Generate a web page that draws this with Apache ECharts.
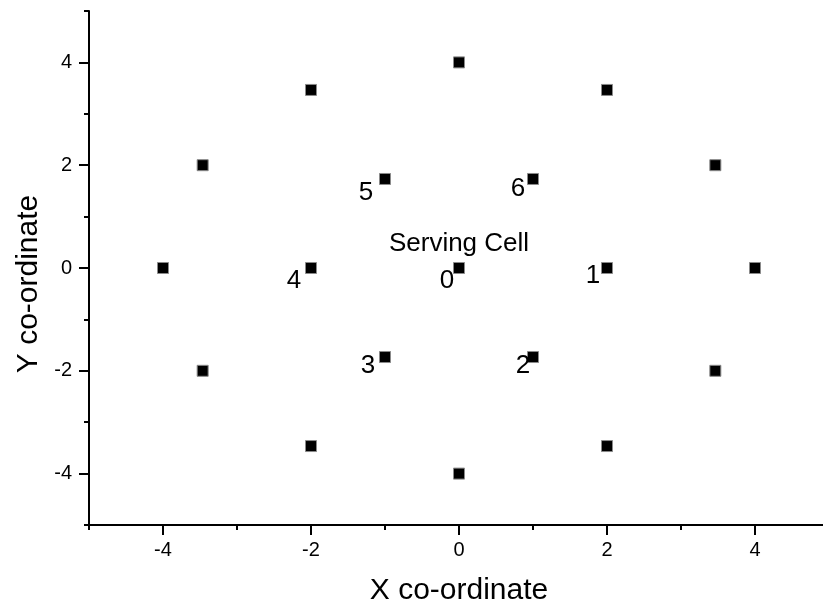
<!DOCTYPE html>
<html>
<head>
<meta charset="utf-8">
<script src="https://cdn.jsdelivr.net/npm/echarts@6/dist/echarts.min.js"></script>
<style>html,body{margin:0;padding:0;background:#fff}#c{width:823px;height:608px}</style>
</head>
<body>
<div id="c"></div>
<script>
// ---- data ----
var cellX = [0, 2, 1, -1, -2, -1, 1, 4, 3.464, 2, 0, -2, -3.464, -4, -3.464, -2, 0, 2, 3.464];
var cellY = [0, 0, -1.732, -1.732, 0, 1.732, 1.732, 0, 2, 3.464, 4, 3.464, 2, 0, -2, -3.464, -4, -3.464, -2];
var cellLabels = ['0', '1', '2', '3', '4', '5', '6', '', '', '', '', '', '', '', '', '', '', '', ''];
var servingLabel = 'Serving Cell';
var majorTicks = [-4, -2, 0, 2, 4];
var minorTicks = [-5, -3, -1, 1, 3, 5];
var xTitle = 'X co-ordinate';
var yTitle = 'Y co-ordinate';

// ---- style (label offsets in px) ----
var labelOffsets = [[-12, 13], [-14, 8], [-10, 9], [-17, 9], [-17, 13], [-19, 14], [-15, 10]];

var FONT = 'Liberation Sans, Arial, sans-serif';
var txt = { color: '#000', fontFamily: FONT, textBorderWidth: 0, textBorderColor: 'transparent', opacity: 1 };
function lbl(extra) { var o = {}; for (var k in txt) o[k] = txt[k]; for (var j in extra) o[j] = extra[j]; return o; }

var data = cellX.map(function (x, i) {
  var d = { value: [x, cellY[i]], name: cellLabels[i] };
  if (cellLabels[i]) {
    d.label = lbl({ show: true, position: 'inside', offset: labelOffsets[i] || [0, 0],
      formatter: '{b}', fontSize: 26 });
  }
  return d;
});

function mkAxis(isX, main) {
  var a = {
    type: 'value', min: -5, max: 5, interval: 1,
    gridIndex: 0,
    position: isX ? 'bottom' : 'left',
    splitLine: { show: false },
    axisLine: { show: main, onZero: false, lineStyle: { color: '#000', width: 2 } },
    axisTick: { show: true, inside: false, length: main ? 10 : 5,
      customValues: main ? majorTicks : minorTicks,
      lineStyle: { color: '#000', width: 2 } },
    axisLabel: { show: main, customValues: majorTicks, margin: isX ? 15 : 17,
      color: '#000', fontSize: 20, fontFamily: FONT },
    z: 5
  };
  if (main) {
    a.name = isX ? xTitle : yTitle;
    a.nameLocation = 'middle';
    a.nameGap = isX ? 51 : 44;
    a.nameTextStyle = { color: '#000', fontSize: 30, fontFamily: FONT,
      padding: isX ? 0 : [0, 32, 0, 0] };
  }
  return a;
}

var chart = echarts.init(document.getElementById('c'), null, { renderer: 'canvas' });
chart.setOption({
  animation: false,
  backgroundColor: '#fff',
  grid: { left: 89, top: 11, width: 740, height: 514, containLabel: false, outerBoundsMode: 'none' },
  xAxis: [mkAxis(true, true), mkAxis(true, false)],
  yAxis: [mkAxis(false, true), mkAxis(false, false)],
  series: [
    {
      type: 'scatter', xAxisIndex: 0, yAxisIndex: 0,
      symbol: 'rect', symbolSize: 11,
      itemStyle: { color: '#000', borderColor: '#8a8a8a', borderWidth: 1, opacity: 1 },
      emphasis: { disabled: true },
      data: data
    },
    {
      type: 'scatter', xAxisIndex: 0, yAxisIndex: 0,
      symbol: 'circle', symbolSize: 1,
      itemStyle: { color: 'rgba(0,0,0,0)' },
      emphasis: { disabled: true },
      z: 1,
      label: lbl({ show: true, position: 'inside', offset: [0, -24], formatter: servingLabel,
        fontSize: 26 }),
      data: [[cellX[0], cellY[0]]]
    }
  ]
});
</script>
</body>
</html>
